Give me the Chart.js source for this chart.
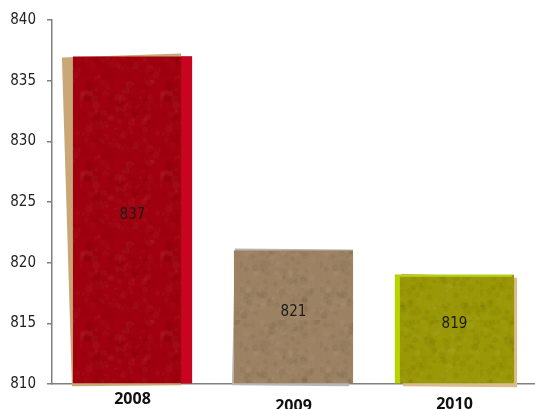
<!DOCTYPE html>
<html>
<head>
<meta charset="utf-8">
<script src="https://cdn.jsdelivr.net/npm/chart.js@4.4.1/dist/chart.umd.min.js"></script>
<style>
  html, body { margin: 0; padding: 0; background: #ffffff; }
  #wrap { width: 535px; height: 409px; }
</style>
</head>
<body>
<div id="wrap"><canvas id="c" width="535" height="409"></canvas></div>
<script>
// Values per year
const years = ['2008', '2009', '2010'];
const values = [837, 821, 819];
const yTicks = [810, 815, 820, 825, 830, 835, 840];

// Paper colours for each bar: face, backing sheet, edge strip
const faceColors = ['#a1000f', '#9c8262', '#9a9806'];
const sheetColors = ['#c9a877', '#b9b6b1', '#d9bb8c'];
const edgeColors = ['#c8041e', '#c9ad80', '#b6d400'];
// Year labels sit a little unevenly below the axis
const labelDrop = [0, 7, 5];

const narrow = '"Liberation Sans Narrow", "Arial Narrow", "DejaVu Sans Condensed", sans-serif';

// Soft deterministic grain so the bars read as paper
function grain(base, seed) {
  const cv = document.createElement('canvas');
  cv.width = 80; cv.height = 80;
  const g = cv.getContext('2d');
  g.fillStyle = base;
  g.fillRect(0, 0, 80, 80);
  let s = seed;
  const next = () => { s = (s * 16807) % 2147483647; return s / 2147483647; };
  for (let i = 0; i < 260; i++) {
    const x = next() * 80, y = next() * 80, r = 1 + next() * 3;
    const dark = next() < 0.55;
    g.fillStyle = dark ? 'rgba(0,0,0,' + (0.015 + next() * 0.035) + ')'
                       : 'rgba(255,255,255,' + (0.01 + next() * 0.03) + ')';
    g.beginPath(); g.arc(x, y, r, 0, Math.PI * 2); g.fill();
  }
  return g.createPattern(cv, 'repeat');
}

const ctx = document.getElementById('c').getContext('2d');
const fills = faceColors.map((c, i) => grain(c, 1234 + i * 777));

// Backing sheets drawn slightly askew behind each bar, plus labels
const paperSheets = {
  id: 'paperSheets',
  beforeDatasetsDraw(chart) {
    const meta = chart.getDatasetMeta(0);
    const c = chart.ctx;
    meta.data.forEach((bar, i) => {
      const p = bar.getProps(['x', 'y', 'base', 'width'], true);
      const l = p.x - p.width / 2, r = p.x + p.width / 2;
      c.save();
      c.fillStyle = sheetColors[i];
      c.beginPath();
      if (i === 0) {
        c.moveTo(l - 11, p.y + 1);
        c.lineTo(r - 11, p.y - 3);
        c.lineTo(r - 11, p.base + 2);
        c.lineTo(l - 1, p.base + 3);
      } else if (i === 1) {
        c.moveTo(l + 1, p.y - 2);
        c.lineTo(r, p.y - 1);
        c.lineTo(r - 4, p.base + 3);
        c.lineTo(l - 2, p.base + 2);
      } else {
        c.moveTo(l + 6, p.y - 1);
        c.lineTo(r + 3, p.y + 3);
        c.lineTo(r + 3, p.base + 4);
        c.lineTo(l + 8, p.base + 3);
      }
      c.closePath();
      c.fill();
      c.restore();
    });
  },
  afterDatasetsDraw(chart) {
    const meta = chart.getDatasetMeta(0);
    const c = chart.ctx;
    const xs = chart.scales.x;
    meta.data.forEach((bar, i) => {
      const p = bar.getProps(['x', 'y', 'base', 'width'], true);
      const l = p.x - p.width / 2, r = p.x + p.width / 2;
      c.save();
      c.fillStyle = edgeColors[i];
      if (i === 0) {
        // brighter strip along the right edge
        c.fillRect(r - 11, p.y, 11, p.base - p.y);
      } else if (i === 2) {
        // lime rim along the left and top edges
        c.fillRect(l, p.y, 5, p.base - p.y);
        c.fillRect(l, p.y, p.width - 2, 2);
      }
      // value label in the middle of the bar
      c.fillStyle = '#1a1a1a';
      c.font = '15px ' + narrow;
      c.textAlign = 'center';
      c.textBaseline = 'middle';
      c.fillText(String(values[i]), p.x, (p.y + p.base) / 2 - 5);
      // year label under the axis
      c.fillStyle = '#111111';
      c.font = 'bold 16px "Open Sans", "DejaVu Sans", sans-serif';
      c.fillText(years[i], xs.getPixelForValue(i), xs.top + 15 + labelDrop[i]);
      c.restore();
    });
  }
};

new Chart(ctx, {
  type: 'bar',
  data: {
    labels: years,
    datasets: [{
      data: values,
      base: 810,
      backgroundColor: fills,
      borderWidth: 0,
      barPercentage: 0.74,
      categoryPercentage: 1.0
    }]
  },
  options: {
    responsive: false,
    animation: false,
    events: [],
    layout: { padding: { top: 12, right: 0, left: 0, bottom: 25 } },
    plugins: {
      legend: { display: false },
      tooltip: { enabled: false }
    },
    scales: {
      x: {
        grid: { display: false, drawTicks: false },
        border: { display: true, color: '#7f7f7f', width: 1.5 },
        ticks: { display: false }
      },
      y: {
        min: 810,
        max: 840,
        afterBuildTicks(scale) { scale.ticks = yTicks.map(v => ({ value: v })); },
        afterFit(scale) { scale.width = 52; },
        grid: { display: true, drawOnChartArea: false, drawTicks: true, tickLength: 5, color: '#7f7f7f', lineWidth: 1.5 },
        border: { display: true, color: '#7f7f7f', width: 1.5 },
        ticks: {
          padding: 11,
          color: '#222222',
          font: { family: narrow, size: 15 }
        }
      }
    }
  },
  plugins: [paperSheets]
});
</script>
</body>
</html>
